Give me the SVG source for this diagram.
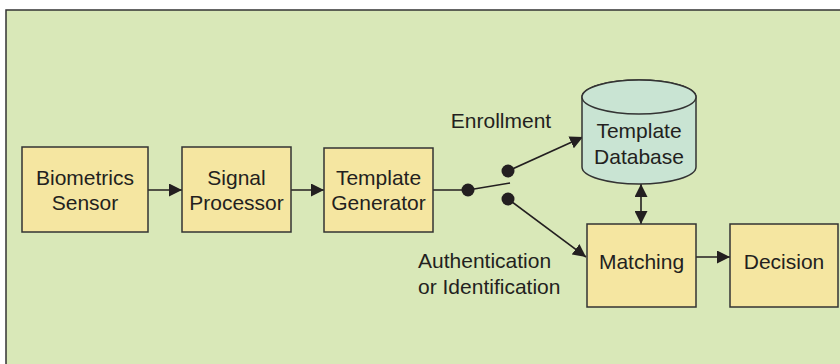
<svg xmlns="http://www.w3.org/2000/svg" width="840" height="364" viewBox="0 0 840 364">
<defs>
<style>
.box{fill:#f5e6a1;stroke:#333;stroke-width:1.5}
.db{fill:#c9e4d3;stroke:#333;stroke-width:1.5}
.t{font-family:"Liberation Sans",Arial,sans-serif;font-size:21px;fill:#231f20;text-anchor:middle}
.tl{font-family:"Liberation Sans",Arial,sans-serif;font-size:21px;fill:#231f20}
.c{stroke:#231f20;stroke-width:1.6;fill:none}
.dot{fill:#231f20}
</style>
<marker id="ah" viewBox="0 0 10 10" refX="10" refY="5" markerWidth="13" markerHeight="13" markerUnits="userSpaceOnUse" orient="auto-start-reverse">
<path d="M0,0 L10,5 L0,10 Z" fill="#231f20"/>
</marker>
</defs>
<rect x="6" y="10" width="840" height="360" fill="#d9e8b8" stroke="#333" stroke-width="1.5"/>
<g id="connectors">
<line class="c" x1="148" y1="190" x2="182" y2="190" marker-end="url(#ah)"/>
<line class="c" x1="291" y1="190" x2="324" y2="190" marker-end="url(#ah)"/>
<line class="c" x1="433" y1="190" x2="468" y2="190"/>
<line class="c" x1="468" y1="190" x2="510" y2="183"/>
<line class="c" x1="508" y1="171" x2="583" y2="137" marker-end="url(#ah)"/>
<line class="c" x1="508" y1="199" x2="586" y2="257" marker-end="url(#ah)"/>
<line class="c" x1="641" y1="184" x2="641" y2="224" marker-start="url(#ah)" marker-end="url(#ah)"/>
<line class="c" x1="696" y1="257" x2="730" y2="257" marker-end="url(#ah)"/>
<circle class="dot" cx="468" cy="190" r="6.5"/>
<circle class="dot" cx="508" cy="171" r="6.5"/>
<circle class="dot" cx="508" cy="199" r="6.5"/>
</g>
<g id="sensor">
<rect class="box" x="22" y="147" width="126" height="85"/>
<text class="t" x="85" y="185">Biometrics</text>
<text class="t" x="85" y="210">Sensor</text>
</g>
<g id="processor">
<rect class="box" x="182" y="147" width="109" height="85"/>
<text class="t" x="236.5" y="185">Signal</text>
<text class="t" x="236.5" y="210">Processor</text>
</g>
<g id="generator">
<rect class="box" x="324" y="148" width="109" height="84"/>
<text class="t" x="378.5" y="185">Template</text>
<text class="t" x="378.5" y="210">Generator</text>
</g>
<g id="database">
<path class="db" d="M582,97 L582,167 A57,17 0 0 0 696,167 L696,97 A57,17 0 0 0 582,97 Z"/>
<ellipse class="db" cx="639" cy="97" rx="57" ry="17"/>
<text class="t" x="639" y="138">Template</text>
<text class="t" x="639" y="164">Database</text>
</g>
<g id="matching">
<rect class="box" x="587" y="224" width="109" height="83"/>
<text class="t" x="641.5" y="269">Matching</text>
</g>
<g id="decision">
<rect class="box" x="730" y="224" width="108" height="83"/>
<text class="t" x="784" y="269">Decision</text>
</g>
<g id="labels">
<text class="t" x="501" y="128">Enrollment</text>
<text class="tl" x="418" y="268">Authentication</text>
<text class="tl" x="418" y="294">or Identification</text>
</g>
</svg>
